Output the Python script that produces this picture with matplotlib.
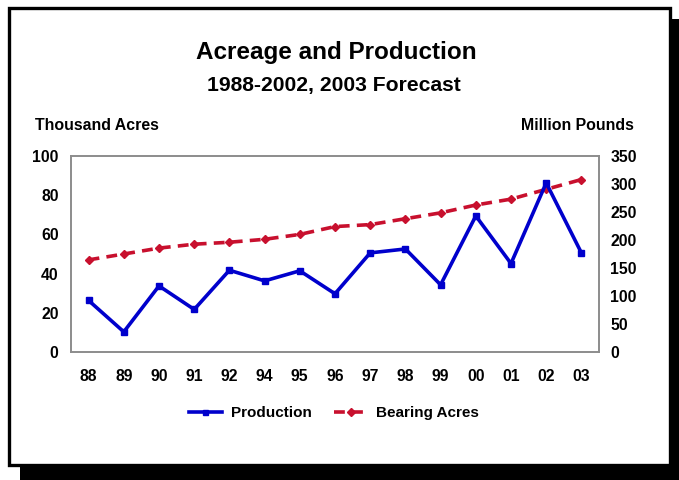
import matplotlib
matplotlib.use("Agg")
import matplotlib.pyplot as plt
from matplotlib.patches import Rectangle

plt.rcParams['font.family'] = ['Liberation Sans', 'DejaVu Sans']
plt.rcParams['font.weight'] = 'bold'

years = ['88', '89', '90', '91', '92', '94', '95', '96', '97', '98', '99', '00', '01', '02', '03']
production = [92, 36, 118, 76, 146, 127, 145, 104, 177, 184, 120, 243, 158, 302, 177]
bearing_acres = [47, 50, 53, 55, 56, 57.5, 60, 64, 65, 68, 71, 75, 78, 83, 88]

W, H = 679, 480
fig = plt.figure(figsize=(W / 100, H / 100), dpi=100)

# shadow + framed white box (drawn behind the axes)
fig.patches.append(Rectangle((20 / W, 0), 665 / W, 1 - 19 / H, transform=fig.transFigure,
                             facecolor='black', edgecolor='none', zorder=-3))
fig.patches.append(Rectangle((8.5 / W, 1 - 465 / H), 661 / W, 457.5 / H, transform=fig.transFigure,
                             facecolor='white', edgecolor='black', linewidth=2.4, zorder=-2))

ax = fig.add_axes([71 / W, 1 - 352 / H, 528 / W, 196 / H])
ax2 = ax.twinx()
ax.patch.set_alpha(0)
x = list(range(len(years)))

red = '#C8102E'
blue = '#0000CC'
l1, = ax.plot(x, bearing_acres, color=red, linestyle=(0, (3, 2)), linewidth=2.6,
              marker='D', markersize=4.5, label='Bearing Acres')
l2, = ax2.plot(x, production, color=blue, linewidth=2.6, marker='s', markersize=4.5,
               label='Production')

ax.set_xlim(-0.5, len(years) - 0.5)
ax.set_ylim(0, 100)
ax2.set_ylim(0, 350)
ax.set_yticks(range(0, 101, 20))
ax2.set_yticks(range(0, 351, 50))
ax.set_xticks(x)
ax.set_xticklabels(years)
for a in (ax, ax2):
    a.tick_params(length=0, labelsize=11.3)
    for s in a.spines.values():
        s.set_color('#8c8c8c')
        s.set_linewidth(1.2)
ax.tick_params(axis='y', pad=9)
ax2.tick_params(axis='y', pad=8)
ax.tick_params(axis='x', pad=12)

fig.text(336 / W, 1 - 52 / H, 'Acreage and Production', ha='center', va='center',
         fontsize=17.5, fontweight='bold')
fig.text(334 / W, 1 - 85 / H, '1988-2002, 2003 Forecast', ha='center', va='center',
         fontsize=15.2, fontweight='bold')
fig.text(35 / W, 1 - 126 / H, 'Thousand Acres', ha='left', va='center', fontsize=11.4)
fig.text(634 / W, 1 - 126 / H, 'Million Pounds', ha='right', va='center', fontsize=11.4)

fig.legend([l2, l1], ['Production', 'Bearing Acres'], loc='center',
           bbox_to_anchor=(334 / W, 1 - 413 / H), ncol=2, frameon=False,
           fontsize=11, handlelength=2.2, columnspacing=1.4, handletextpad=0.6,
           markerscale=0.8)

fig.savefig('out.png', dpi=100)
